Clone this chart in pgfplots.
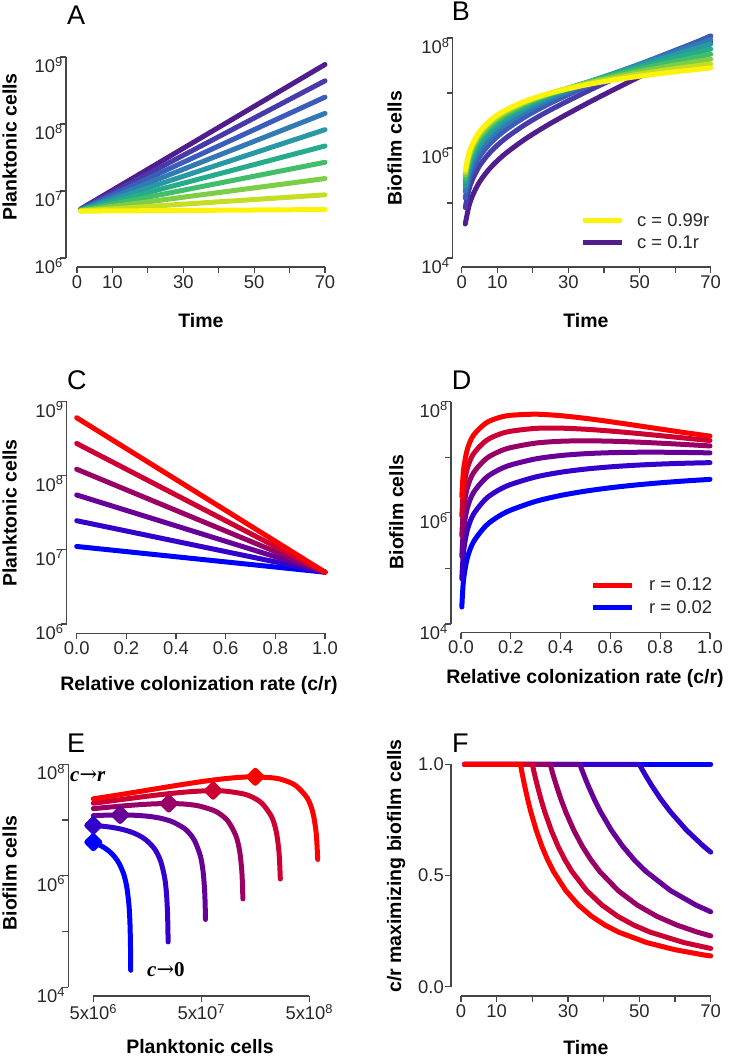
\documentclass[border=0pt]{standalone}
\usepackage{pgfplots}
\pgfplotsset{compat=1.18}
\usepackage{fontspec}
\setmainfont{Liberation Sans}
\newfontfamily\serifbi{Liberation Serif}
\newfontfamily\dejaserif{DejaVu Serif}

\definecolor{v1}{RGB}{80,30,140}
\definecolor{v2}{RGB}{72,58,168}
\definecolor{v3}{RGB}{60,92,185}
\definecolor{v4}{RGB}{50,122,180}
\definecolor{v5}{RGB}{40,152,165}
\definecolor{v6}{RGB}{38,172,138}
\definecolor{v7}{RGB}{65,190,105}
\definecolor{v8}{RGB}{125,205,70}
\definecolor{v9}{RGB}{195,222,35}
\definecolor{v10}{RGB}{252,242,10}
\definecolor{rb12}{RGB}{255,0,0}
\definecolor{rb10}{RGB}{204,0,51}
\definecolor{rb08}{RGB}{153,0,102}
\definecolor{rb06}{RGB}{102,0,153}
\definecolor{rb04}{RGB}{51,0,204}
\definecolor{rb02}{RGB}{0,0,255}
\definecolor{axgray}{RGB}{70,70,70}
\definecolor{txtgray}{RGB}{40,40,40}

\newcommand{\tlfont}{\fontsize{18.4}{20}\selectfont}
\newcommand{\labfont}{\fontsize{19.5}{22}\selectfont\bfseries}
\newcommand{\panfont}{\fontsize{27}{30}\selectfont}
\newcommand{\annfont}{\fontsize{21}{24}\selectfont}

\pgfplotsset{
  rstyle/.style={
    scale only axis, anchor=south west, clip=false,
    axis x line*=bottom, axis y line*=left,
    axis line style={-, draw=axgray, line width=1.2pt},
    major tick style={draw=axgray, line width=1.2pt},
    minor tick style={draw=none},
    major tick length=6pt,
    tick align=outside,
    ticklabel style={font=\tlfont, text=txtgray, inner sep=2pt},
    every axis plot/.append style={line width=5pt, line cap=round, line join=round, mark=none},
    legend image code/.code={\draw[##1, line width=5pt, line cap=butt] (0pt,0pt) -- (39pt,0pt);},
  },
  logy/.style={yticklabel style={anchor=north east, inner sep=0pt, xshift=3pt}},
}

\begin{document}
\begin{tikzpicture}[x=1pt,y=1pt]
\path (0,0) rectangle (733,1058);

% ---------------- A ----------------
\begin{axis}[rstyle, logy, at={(77pt,800pt)}, width=248pt, height=201pt,
  xmin=0, xmax=70, ymin=1e6, ymax=1e9, ymode=log,
  axis x line shift=9pt, axis y line shift=11pt,
  xtick={0,10,20,30,40,50,60,70}, xticklabels={0,10,,30,,50,,70},
  ytick={1e6,1e7,1e8,1e9},
  yticklabels={10\textsuperscript{6},10\textsuperscript{7},10\textsuperscript{8},10\textsuperscript{9}}]
\addplot[v1] coordinates {(1,5.373e6) (70,7.7236e8)};
\addplot[v2] coordinates {(1,5.330e6) (70,4.4117e8)};
\addplot[v3] coordinates {(1,5.288e6) (70,2.5200e8)};
\addplot[v4] coordinates {(1,5.246e6) (70,1.43957e8)};
\addplot[v5] coordinates {(1,5.204e6) (70,8.2223e7)};
\addplot[v6] coordinates {(1,5.163e6) (70,4.6967e7)};
\addplot[v7] coordinates {(1,5.121e6) (70,2.6828e7)};
\addplot[v8] coordinates {(1,5.081e6) (70,1.5324e7)};
\addplot[v9] coordinates {(1,5.040e6) (70,8.753e6)};
\addplot[v10] coordinates {(1,5.004e6) (70,5.288e6)};
\end{axis}

% ---------------- B ----------------
\begin{axis}[rstyle, logy, at={(461.7pt,800pt)}, width=249pt, height=220pt,
  xmin=0, xmax=70, ymin=1e4, ymax=1e8, ymode=log,
  axis x line shift=9pt, axis y line shift=9pt,
  xtick={0,10,20,30,40,50,60,70}, xticklabels={0,10,,30,,50,,70},
  ytick={1e4,1e5,1e6,1e7,1e8},
  yticklabels={10\textsuperscript{4},,10\textsuperscript{6},,10\textsuperscript{8}},
  legend style={at={(0.475,0.12)}, anchor=west, draw=none, fill=none, inner sep=0pt,
    font=\tlfont, text=txtgray, row sep=6pt, column sep=12pt, nodes={inner sep=1pt}},
  legend cell align=left]
\addplot[v1, smooth, forget plot] coordinates {(1,4.1475e4)(2,8.6047e4)(3,1.33946e5)(5,2.40738e5)(8,4.32759e5)(12,7.62569e5)(18,1.47481e6)(25,2.80536e6)(35,6.34927e6)(45,1.36299e7)(57,3.31015e7)(70,8.5262e7)};
\addplot[v2, smooth, forget plot] coordinates {(1,8.2615e4)(2,1.70691e5)(3,2.64589e5)(5,4.7141e5)(8,8.35781e5)(12,1.44432e6)(18,2.70565e6)(25,4.94129e6)(35,1.04917e7)(45,2.10178e7)(57,4.67473e7)(70,1.09043e8)};
\addplot[v3, smooth, forget plot] coordinates {(1,1.23424e5)(2,2.53956e5)(3,3.92012e5)(5,6.92421e5)(8,1.21114e6)(12,2.0531e6)(18,3.72882e6)(25,6.54686e6)(35,1.307e7)(45,2.44899e7)(57,5.0008e7)(70,1.05858e8)};
\addplot[v4, smooth, forget plot] coordinates {(1,1.63903e5)(2,3.35863e5)(3,5.1628e5)(5,9.04163e5)(8,1.56036e6)(12,2.59655e6)(18,4.57538e6)(25,7.73372e6)(35,1.45519e7)(45,2.55705e7)(57,4.80839e7)(70,9.26382e7)};
\addplot[v5, smooth, forget plot] coordinates {(1,2.04055e5)(2,4.16435e5)(3,6.37485e5)(5,1.10702e6)(8,1.88564e6)(12,3.08037e6)(18,5.27217e6)(25,8.59141e6)(35,1.5276e7)(45,2.52482e7)(57,4.38834e7)(70,7.72233e7)};
\addplot[v6, smooth, forget plot] coordinates {(1,2.43885e5)(2,4.9569e5)(3,7.55693e5)(5,1.30133e6)(8,2.18815e6)(12,3.51081e6)(18,5.84225e6)(25,9.19156e6)(35,1.54864e7)(45,2.41552e7)(57,3.89744e7)(70,6.295e7)};
\addplot[v7, smooth, forget plot] coordinates {(1,2.83383e5)(2,5.73662e5)(3,8.70975e5)(5,1.48747e6)(8,2.4695e6)(12,3.89403e6)(18,6.30414e6)(25,9.59139e6)(35,1.53576e7)(45,2.26879e7)(57,3.4154e7)(70,5.09315e7)};
\addplot[v8, smooth, forget plot] coordinates {(1,3.2258e5)(2,6.5036e5)(3,9.8342e5)(5,1.66574e6)(8,2.73106e6)(12,4.23342e6)(18,6.67548e6)(25,9.8365e6)(35,1.50135e7)(45,2.10887e7)(57,2.97859e7)(70,4.12971e7)};
\addplot[v9, smooth, forget plot] coordinates {(1,3.6144e5)(2,7.25805e5)(3,1.09305e6)(5,1.8365e6)(8,2.97414e6)(12,4.53416e6)(18,6.96978e6)(25,9.96314e6)(35,1.45409e7)(45,1.94998e7)(57,2.59997e7)(70,3.37803e7)};
\addplot[v10, smooth, forget plot] coordinates {(1,3.96158e5)(2,7.92644e5)(3,1.18944e6)(5,1.98396e6)(8,3.17815e6)(12,4.77487e6)(18,7.17958e6)(25,9.99964e6)(35,1.40559e7)(45,1.81446e7)(57,2.30946e7)(70,2.8511e7)};
\addlegendimage{v10}\addlegendentry{c = 0.99r}
\addlegendimage{v1}\addlegendentry{c = 0.1r}
\end{axis}

% ---------------- C ----------------
\begin{axis}[rstyle, logy, at={(76.7pt,434pt)}, width=248.3pt, height=222.3pt,
  xmin=0, xmax=1, ymin=1e6, ymax=1e9, ymode=log,
  axis x line shift=9.3pt, axis y line shift=10pt,
  xtick={0,0.2,0.4,0.6,0.8,1}, xticklabels={0.0,0.2,0.4,0.6,0.8,1.0},
  ytick={1e6,1e7,1e8,1e9},
  yticklabels={10\textsuperscript{6},10\textsuperscript{7},10\textsuperscript{8},10\textsuperscript{9}}]
\addplot[rb02] coordinates {(0,1.1128e7) (1,5e6)};
\addplot[rb04] coordinates {(0,2.4765e7) (1,5e6)};
\addplot[rb06] coordinates {(0,5.5116e7) (1,5e6)};
\addplot[rb08] coordinates {(0,1.22663e8) (1,5e6)};
\addplot[rb10] coordinates {(0,2.72991e8) (1,5e6)};
\addplot[rb12] coordinates {(0,6.07552e8) (1,5e6)};
\end{axis}

% ---------------- D ----------------
\begin{axis}[rstyle, logy, at={(461pt,434pt)}, width=249pt, height=222.3pt,
  xmin=0, xmax=1, ymin=1e4, ymax=1e8, ymode=log,
  axis x line shift=8.7pt, axis y line shift=10pt,
  xtick={0,0.2,0.4,0.6,0.8,1}, xticklabels={0.0,0.2,0.4,0.6,0.8,1.0},
  ytick={1e4,1e5,1e6,1e7,1e8},
  yticklabels={10\textsuperscript{4},,10\textsuperscript{6},,10\textsuperscript{8}},
  legend style={at={(0.518,0.125)}, anchor=west, draw=none, fill=none, inner sep=0pt,
    font=\tlfont, text=txtgray, row sep=6pt, column sep=14pt, nodes={inner sep=1pt}},
  legend cell align=left]
\addplot[rb02, smooth, forget plot] coordinates {(0.0033,2.019e4)(0.01,6.100e4)(0.025,1.5147e5)(0.05,2.995e5)(0.1,5.858e5)(0.15,8.593e5)(0.2,1.1206e6)(0.3,1.6086e6)(0.4,2.0536e6)(0.5,2.4591e6)(0.6,2.8285e6)(0.7,3.1646e6)(0.8,3.4702e6)(0.9,3.7479e6)(1,4.0e6)};
\addplot[rb04, smooth, forget plot] coordinates {(0.0033,6.501e4)(0.01,1.9568e5)(0.025,4.819e5)(0.05,9.401e5)(0.1,1.7893e6)(0.15,2.5555e6)(0.2,3.2458e6)(0.3,4.4247e6)(0.4,5.3723e6)(0.5,6.1277e6)(0.6,6.7236e6)(0.7,7.1875e6)(0.8,7.5426e6)(0.9,7.808e6)(1,8.0e6)};
\addplot[rb06, smooth, forget plot] coordinates {(0.0033,1.6449e5)(0.01,4.930e5)(0.025,1.2027e6)(0.05,2.3097e6)(0.1,4.2617e6)(0.15,5.9035e6)(0.2,7.2762e6)(0.3,9.3548e6)(0.4,1.07357e7)(0.5,1.16006e7)(0.6,1.20878e7)(0.7,1.23017e7)(0.8,1.23214e7)(0.9,1.22063e7)(1,1.2e7)};
\addplot[rb08, smooth, forget plot] coordinates {(0.0033,3.853e5)(0.01,1.1495e6)(0.025,2.7752e6)(0.05,5.2383e6)(0.1,9.3412e6)(0.15,1.25121e7)(0.2,1.49198e7)(0.3,1.79857e7)(0.4,1.94032e7)(0.5,1.97652e7)(0.6,1.94748e7)(0.7,1.88032e7)(0.8,1.79296e7)(0.9,1.69709e7)(1,1.6e7)};
\addplot[rb10, smooth, forget plot] coordinates {(0.0033,8.754e5)(0.01,2.5989e6)(0.025,6.2054e6)(0.05,1.15003e7)(0.1,1.97768e7)(0.15,2.55566e7)(0.2,2.94157e7)(0.3,3.30957e7)(0.4,3.34106e7)(0.5,3.19453e7)(0.6,2.96477e7)(0.7,2.70681e7)(0.8,2.45108e7)(0.9,2.21319e7)(1,2.0e7)};
\addplot[rb12, smooth, forget plot] coordinates {(0.0033,1.96338e6)(0.01,5.7988e6)(0.025,1.36885e7)(0.05,2.48909e7)(0.1,4.12201e7)(0.15,5.13043e7)(0.2,5.69068e7)(0.3,5.95532e7)(0.4,5.60476e7)(0.5,5.01159e7)(0.6,4.36572e7)(0.7,3.75748e7)(0.8,3.2234e7)(0.9,2.77232e7)(1,2.4e7)};
\addlegendimage{rb12}\addlegendentry{r = 0.12}
\addlegendimage{rb02}\addlegendentry{r = 0.02}
\end{axis}

% ---------------- E ----------------
\begin{axis}[rstyle, logy, at={(93.3pt,70.7pt)}, width=216pt, height=223pt,
  xmin=5e6, xmax=5e8, ymin=1e4, ymax=1e8, xmode=log, ymode=log,
  axis x line shift=8.7pt, axis y line shift=25pt,
  xtick={5e6,5e7,5e8},
  xticklabels={5x10\textsuperscript{6},5x10\textsuperscript{7},5x10\textsuperscript{8}},
  ytick={1e4,1e5,1e6,1e7,1e8},
  yticklabels={10\textsuperscript{4},,10\textsuperscript{6},,10\textsuperscript{8}}]
\addplot[rb02, smooth] coordinates {(1.1098e7,2.019e4)(1.1039e7,6.100e4)(1.0907e7,1.5147e5)(1.0691e7,2.995e5)(1.0272e7,5.858e5)(9.869e6,8.593e5)(9.482e6,1.1206e6)(8.753e6,1.6086e6)(8.080e6,2.0536e6)(7.459e6,2.4591e6)(6.886e6,2.8285e6)(6.356e6,3.1646e6)(5.868e6,3.4702e6)(5.416e6,3.7479e6)(5e6,4.0e6)};
\addplot[rb04, smooth] coordinates {(2.4635e7,6.501e4)(2.4372e7,1.9568e5)(2.3794e7,4.819e5)(2.2861e7,9.401e5)(2.1104e7,1.7893e6)(1.9481e7,2.5555e6)(1.7983e7,3.2458e6)(1.5324e7,4.4247e6)(1.3059e7,5.3723e6)(1.1128e7,6.1277e6)(9.482e6,6.7236e6)(8.080e6,7.1875e6)(6.886e6,7.5426e6)(5.868e6,7.808e6)(5e6,8.0e6)};
\addplot[rb06, smooth] coordinates {(5.468e7,1.6449e5)(5.381e7,4.930e5)(5.191e7,1.2027e6)(4.888e7,2.3097e6)(4.3356e7,4.2617e6)(3.8453e7,5.9035e6)(3.4105e7,7.2762e6)(2.6828e7,9.3548e6)(2.1104e7,1.07357e7)(1.6601e7,1.16006e7)(1.3059e7,1.20878e7)(1.0272e7,1.23017e7)(8.080e6,1.23214e7)(6.356e6,1.22063e7)(5e6,1.2e7)};
\addplot[rb08, smooth] coordinates {(1.21374e8,3.853e5)(1.1880e8,1.1495e6)(1.13232e8,2.7752e6)(1.04526e8,5.2383e6)(8.9071e7,9.3412e6)(7.5902e7,1.25121e7)(6.4679e7,1.49198e7)(4.6967e7,1.79857e7)(3.4105e7,1.94032e7)(2.4765e7,1.97652e7)(1.7983e7,1.94748e7)(1.3059e7,1.88032e7)(9.482e6,1.79296e7)(6.886e6,1.69709e7)(5e6,1.6e7)};
\addplot[rb10, smooth] coordinates {(2.6941e8,8.754e5)(2.6229e8,2.5989e6)(2.4701e8,6.2054e6)(2.2351e8,1.15003e7)(1.82991e8,1.97768e7)(1.49821e8,2.55566e7)(1.22663e8,2.94157e7)(8.2223e7,3.30957e7)(5.5116e7,3.34106e7)(3.6945e7,3.19453e7)(2.4765e7,2.96477e7)(1.6601e7,2.70681e7)(1.1128e7,2.45108e7)(7.459e6,2.21319e7)(5e6,2.0e7)};
\addplot[rb12, smooth] coordinates {(5.98e8,1.96338e6)(5.7908e8,5.7988e6)(5.3885e8,1.36885e7)(4.7792e8,2.48909e7)(3.7598e8,4.12201e7)(2.9572e8,5.13043e7)(2.3263e8,5.69068e7)(1.43957e8,5.95532e7)(8.9071e7,5.60476e7)(5.5116e7,5.01159e7)(3.4105e7,4.36572e7)(2.1104e7,3.75748e7)(1.3059e7,3.2234e7)(8.080e6,2.77232e7)(5e6,2.4e7)};
\addplot[only marks, mark=square*, mark size=4.6pt, mark options={rotate=45, draw=rb02, fill=rb02}] coordinates {(5e6,4.0e6)};
\addplot[only marks, mark=square*, mark size=4.6pt, mark options={rotate=45, draw=rb04, fill=rb04}] coordinates {(5e6,8.0e6)};
\addplot[only marks, mark=square*, mark size=4.6pt, mark options={rotate=45, draw=rb06, fill=rb06}] coordinates {(8.871e6,1.23335e7)};
\addplot[only marks, mark=square*, mark size=4.6pt, mark options={rotate=45, draw=rb08, fill=rb08}] coordinates {(2.5004e7,1.97654e7)};
\addplot[only marks, mark=square*, mark size=4.6pt, mark options={rotate=45, draw=rb10, fill=rb10}] coordinates {(6.4472e7,3.35697e7)};
\addplot[only marks, mark=square*, mark size=4.6pt, mark options={rotate=45, draw=rb12, fill=rb12}] coordinates {(1.58146e8,5.9675e7)};
\end{axis}

% ---------------- F ----------------
\begin{axis}[rstyle, at={(461pt,71.3pt)}, width=249.7pt, height=222.4pt,
  xmin=0, xmax=70, ymin=0, ymax=1,
  axis x line shift=9.3pt, axis y line shift=10pt,
  yticklabel style={inner sep=1pt},
  xtick={0,10,20,30,40,50,60,70}, xticklabels={0,10,,30,,50,,70},
  ytick={0,0.5,1}, yticklabels={0.0,0.5,1.0}]
\addplot[rb02] coordinates {(1,1)(70,1)};
\addplot[rb04] coordinates {(1,1)(50,1)(50.83,0.9754)(51.69,0.9516)(53.39,0.9064)(56.0,0.8438)(58.67,0.7869)(63.24,0.7035)(67.96,0.6321)(70,0.6050)};
\addplot[rb06] coordinates {(1,1)(33.33,1)(33.89,0.9754)(34.46,0.9516)(35.59,0.9064)(37.33,0.8438)(39.11,0.7869)(42.16,0.7035)(45.31,0.6321)(48.54,0.5708)(51.86,0.5179)(58.72,0.4323)(65.84,0.3672)(70,0.3369)};
\addplot[rb08] coordinates {(1,1)(25,1)(25.42,0.9754)(25.84,0.9516)(26.70,0.9064)(28.0,0.8438)(29.34,0.7869)(31.62,0.7035)(33.98,0.6321)(36.41,0.5708)(38.89,0.5179)(44.04,0.4323)(49.38,0.3672)(54.88,0.3167)(60.52,0.2771)(66.26,0.2454)(70,0.2283)};
\addplot[rb10] coordinates {(1,1)(20,1)(20.33,0.9754)(20.67,0.9516)(21.36,0.9064)(22.40,0.8438)(23.47,0.7869)(25.30,0.7035)(27.18,0.6321)(29.12,0.5708)(31.11,0.5179)(35.23,0.4323)(39.51,0.3672)(43.91,0.3167)(48.42,0.2771)(53.01,0.2454)(62.40,0.1987)(70,0.1720)};
\addplot[rb12] coordinates {(1,1)(16.67,1)(16.94,0.9754)(17.23,0.9516)(17.80,0.9064)(18.67,0.8438)(19.56,0.7869)(21.08,0.7035)(22.65,0.6321)(24.27,0.5708)(25.93,0.5179)(29.36,0.4323)(32.92,0.3672)(36.59,0.3167)(40.35,0.2771)(44.18,0.2454)(52.00,0.1987)(59.97,0.1663)(68.05,0.1427)(70,0.1380)};
\end{axis}

% ---------------- labels ----------------
\node[anchor=base west, inner sep=0pt] at (67,1033) {\panfont A};
\node[anchor=base west, inner sep=0pt] at (451.7,1037) {\panfont B};
\node[anchor=base west, inner sep=0pt] at (67,668) {\panfont C};
\node[anchor=base west, inner sep=0pt] at (451.7,668) {\panfont D};
\node[anchor=base west, inner sep=0pt] at (67,305) {\panfont E};
\node[anchor=base west, inner sep=0pt] at (452,305) {\panfont F};

\node[anchor=base, inner sep=0pt] at (201,730) {\labfont Time};
\node[anchor=base, inner sep=0pt] at (586,730) {\labfont Time};
\node[anchor=base, inner sep=0pt] at (199,367) {\labfont Relative colonization rate (c/r)};
\node[anchor=base, inner sep=0pt] at (585,374) {\labfont Relative colonization rate (c/r)};
\node[anchor=base, inner sep=0pt] at (200,5) {\labfont Planktonic cells};
\node[anchor=base, inner sep=0pt] at (586,3) {\labfont Time};

\node[anchor=base, rotate=90, inner sep=0pt] at (16.7,911) {\labfont Planktonic cells};
\node[anchor=base, rotate=90, inner sep=0pt] at (401.7,909.5) {\labfont Biofilm cells};
\node[anchor=base, rotate=90, inner sep=0pt] at (16.7,545) {\labfont Planktonic cells};
\node[anchor=base, rotate=90, inner sep=0pt] at (403.3,546) {\labfont Biofilm cells};
\node[anchor=base, rotate=90, inner sep=0pt] at (16.7,185) {\labfont Biofilm cells};
\node[anchor=base, rotate=90, inner sep=0pt] at (401,192) {\labfont c/r maximizing biofilm cells};

\node[anchor=base west, inner sep=0pt] at (70,276) {\annfont{\serifbi\bfseries\itshape c}{\dejaserif →}{\serifbi\bfseries\itshape r}};
\node[anchor=base west, inner sep=0pt] at (147,81.3) {\annfont{\serifbi\bfseries\itshape c}{\dejaserif →}{\serifbi\bfseries 0}};
\end{tikzpicture}
\end{document}
